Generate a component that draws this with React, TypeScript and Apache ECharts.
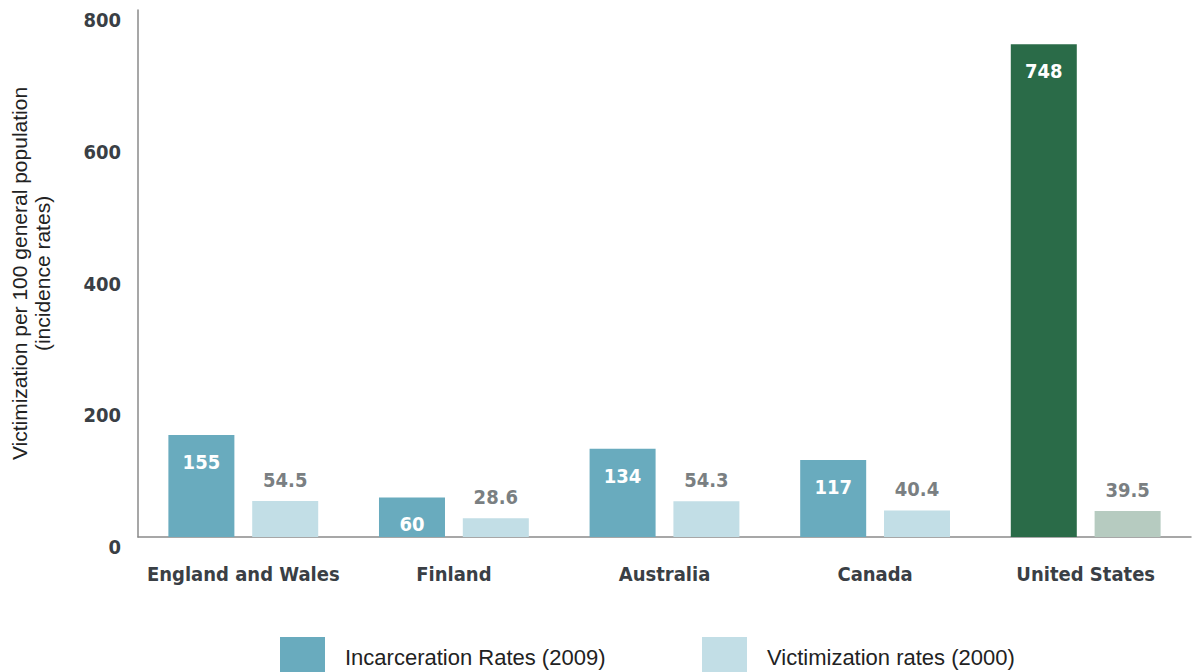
import React, { useEffect, useRef } from "react";
import * as echarts from "echarts";

const categories = ["England and Wales", "Finland", "Australia", "Canada", "United States"];
const incarceration = [155, 60, 134, 117, 748];
const victimization = [54.5, 28.6, 54.3, 40.4, 39.5];
const yTicks = [0, 200, 400, 600, 800];
const seriesNames = ["Incarceration Rates (2009)", "Victimization rates (2000)"];

const NARROW = "'DejaVu Sans Condensed', 'Liberation Sans Narrow', sans-serif";
const SANS = "'Liberation Sans', Arial, sans-serif";

export default function App() {
  const ref = useRef<HTMLDivElement>(null);
  useEffect(() => {
    document.body.style.margin = "0";
    const chart = echarts.init(ref.current!, null, { renderer: "svg" });
    const incColors = categories.map((c) => (c === "United States" ? "#2a6b48" : "#69abbe"));
    const vicColors = categories.map((c) => (c === "United States" ? "#b6cbc0" : "#c2dee6"));
    const legendText = { fontFamily: SANS, fontSize: 22, color: "#222", padding: [0, 0, 0, 15] };
    chart.setOption({
      animation: false,
      grid: { left: 135, right: 1, top: 10, bottom: 135, containLabel: false },
      legend: [
        {
          data: [seriesNames[0]],
          left: 275,
          top: 632,
          icon: "rect",
          itemWidth: 45,
          itemHeight: 40,
          textStyle: legendText,
        },
        {
          data: [seriesNames[1]],
          left: 697,
          top: 632,
          icon: "rect",
          itemWidth: 45,
          itemHeight: 40,
          textStyle: legendText,
        },
      ],
      xAxis: {
        type: "category",
        data: categories,
        axisLine: { show: true, lineStyle: { color: "#8a8a8a", width: 1.5 } },
        axisTick: { show: false },
        axisLabel: {
          interval: 0,
          fontFamily: NARROW,
          fontWeight: "bold",
          fontSize: 20,
          color: "#3a3f45",
          margin: 27,
        },
      },
      yAxis: {
        type: "value",
        min: yTicks[0],
        max: yTicks[yTicks.length - 1],
        interval: 200,
        name: "Victimization per 100 general population\n(incidence rates)",
        nameLocation: "middle",
        nameGap: 84,
        nameTextStyle: { fontFamily: SANS, fontSize: 21, color: "#222", lineHeight: 23 },
        axisLine: { show: true, lineStyle: { color: "#8a8a8a", width: 1.5 } },
        axisTick: { show: false },
        splitLine: { show: false },
        axisLabel: {
          fontFamily: NARROW,
          fontWeight: "bold",
          fontSize: 20,
          color: "#3a3f45",
          margin: 17,
          verticalAlign: "top",
          lineHeight: 20,
        },
      },
      series: [
        {
          name: seriesNames[0],
          type: "bar",
          barWidth: 66,
          barGap: "27%",
          itemStyle: { color: "#69abbe" },
          data: incarceration.map((v, i) => ({ value: v, itemStyle: { color: incColors[i] } })),
          label: {
            show: true,
            position: "insideTop",
            distance: 17,
            fontFamily: NARROW,
            fontWeight: "bold",
            fontSize: 20,
            color: "#ffffff",
          },
        },
        {
          name: seriesNames[1],
          type: "bar",
          barWidth: 66,
          barGap: "27%",
          itemStyle: { color: "#c2dee6" },
          data: victimization.map((v, i) => ({ value: v, itemStyle: { color: vicColors[i] } })),
          label: {
            show: true,
            position: "top",
            distance: 11,
            fontFamily: NARROW,
            fontWeight: "bold",
            fontSize: 20,
            color: "#7a7f82",
          },
        },
      ],
    });
    return () => chart.dispose();
  }, []);
  return <div ref={ref} style={{ width: 1192, height: 672 }} />;
}
